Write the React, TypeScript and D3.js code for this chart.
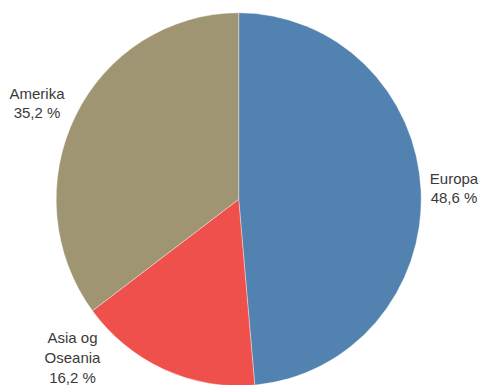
import React, { useEffect, useRef } from "react";
import * as d3 from "d3";

const categories = ["Europa", "Asia og Oseania", "Amerika"];
const values = [48.6, 16.2, 35.2];
const colors = ["#5282AF", "#EF504B", "#A09572"];
// label text lines and anchor positions (layout)
const labelLines = [["Europa", "48,6 %"], ["Asia og", "Oseania", "16,2 %"], ["Amerika", "35,2 %"]];
const labelPos = [
  [454, 183.5],
  [72.5, 343.3],
  [37, 98.5],
];

const W = 481;
const H = 385;
const CX = 238.7;
const CY = 199.3;
const RX = 182.5;
const RY = 186.5;

export default function App() {
  const ref = useRef<SVGSVGElement>(null);
  useEffect(() => {
    const svg = d3.select(ref.current);
    svg.selectAll("*").remove();
    const pie = d3.pie<number>().sort(null).value((d) => d);
    const arcs = pie(values);
    const arc = d3.arc<d3.PieArcDatum<number>>().innerRadius(0).outerRadius(RX);
    const g = svg
      .append("g")
      .attr("transform", `translate(${CX},${CY}) scale(1,${RY / RX})`);
    g.selectAll("path")
      .data(arcs)
      .join("path")
      .attr("d", arc as any)
      .attr("fill", (_d, i) => colors[i])
      .attr("stroke", "#ffffff")
      .attr("stroke-width", 0.6)
      .attr("stroke-opacity", 0.6);

    const lg = svg.append("g");
    categories.forEach((_c, i) => {
      const t = lg
        .append("text")
        .attr("x", labelPos[i][0])
        .attr("y", labelPos[i][1])
        .attr("text-anchor", "middle")
        .attr("font-family", "'Liberation Sans', Arial, sans-serif")
        .attr("font-size", 15)
        .attr("fill", "#3a3a3a");
      labelLines[i].forEach((line, j) => {
        t.append("tspan")
          .attr("x", labelPos[i][0])
          .attr("dy", j === 0 ? 0 : 19.7)
          .text(line);
      });
    });
  }, []);
  return (
    <svg
      ref={ref}
      width={W}
      height={H}
      style={{ position: "absolute", left: 0, top: 0, background: "#fff" }}
    />
  );
}
